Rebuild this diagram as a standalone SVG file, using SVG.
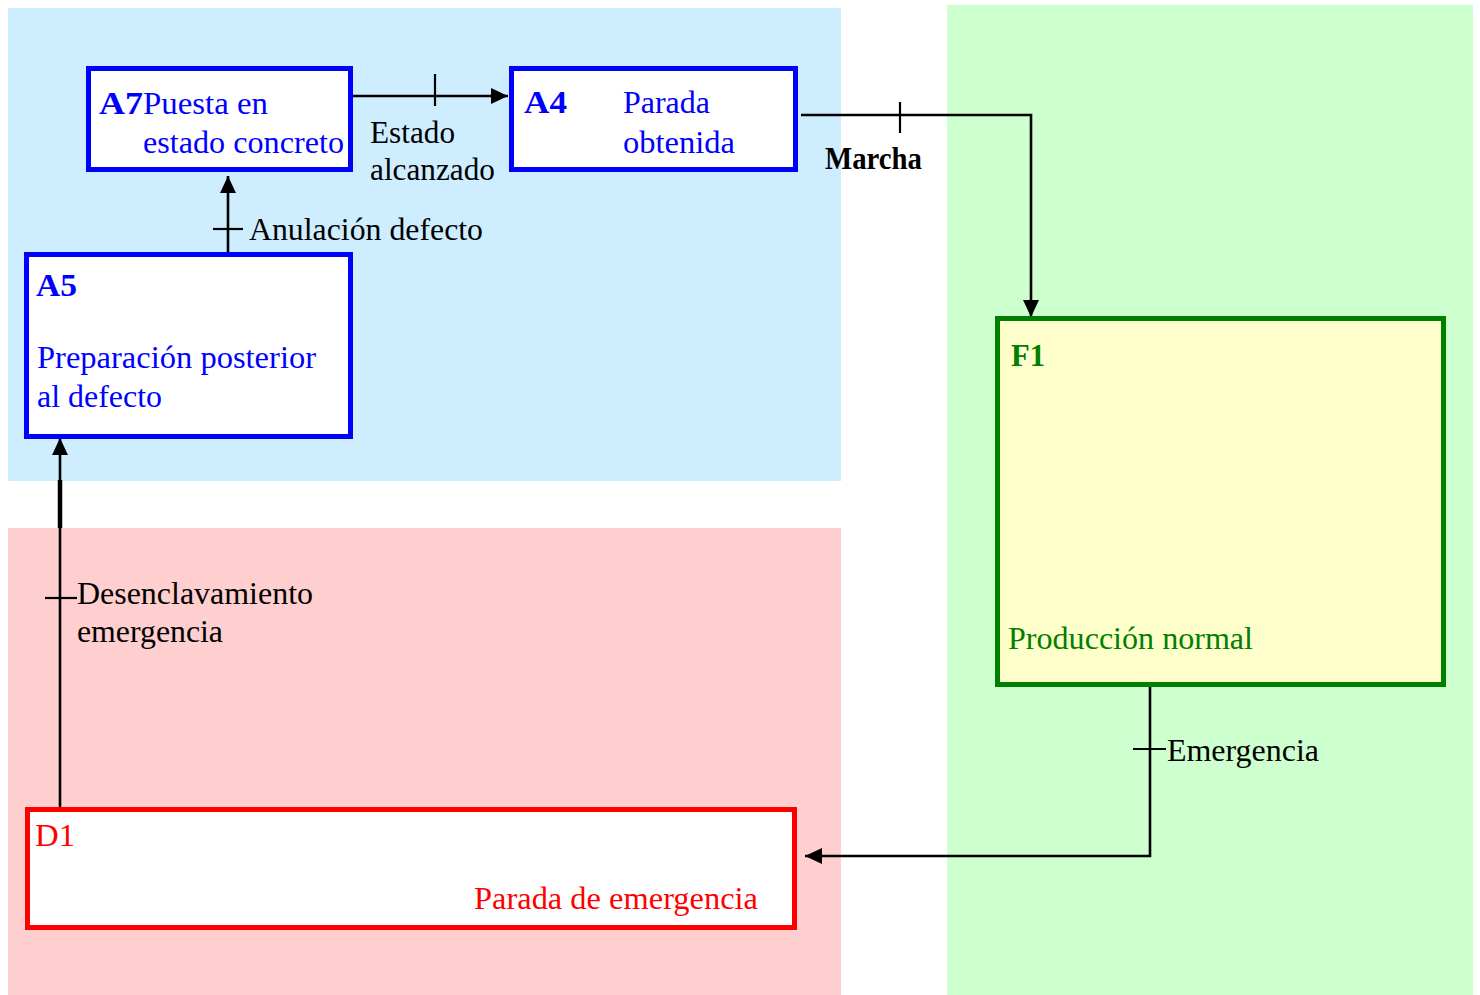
<svg xmlns="http://www.w3.org/2000/svg" width="1480" height="995" viewBox="0 0 1480 995">
<style>
text{font-family:'Liberation Serif','DejaVu Serif','Times New Roman',serif;font-size:31px}
.b{font-weight:bold}
.blue{fill:#0000FF}
.green{fill:#008000}
.red{fill:#FF0000}
.blk{fill:#000000}
.box{stroke-width:5}
.c{fill:none;stroke:#000;stroke-width:2.6}
.tick{fill:none;stroke:#000;stroke-width:2.2}
</style>
<defs>
<marker id="arr" viewBox="0 0 17 16" refX="17" refY="8" markerWidth="17" markerHeight="16" markerUnits="userSpaceOnUse" orient="auto">
<path d="M0,0 L17,8 L0,16 Z" fill="#000"/>
</marker>
</defs>
<rect width="1480" height="995" fill="#FFFFFF"/>
<g id="zones">
<rect x="8" y="8" width="833" height="473" fill="#CEEEFF"/>
<rect x="8" y="528" width="833" height="467" fill="#FFCECE"/>
<rect x="947" y="5" width="526" height="990" fill="#CEFFCE"/>
</g>
<g id="connectors">
<path class="c" d="M353,96 H508" marker-end="url(#arr)"/>
<path class="tick" d="M435,74 V106"/>
<path class="c" d="M801,115 H1031 V317" marker-end="url(#arr)"/>
<path class="tick" d="M900,102 V133"/>
<path class="c" d="M228,253 V176" marker-end="url(#arr)"/>
<path class="tick" d="M213,229 H243"/>
<path class="c" d="M1150,687 V856 H805" marker-end="url(#arr)"/>
<path class="tick" d="M1133,749 H1166"/>
<path class="c" d="M60,808 V438" marker-end="url(#arr)"/>
<path d="M60,480 V528" stroke="#000" stroke-width="4.5"/>
<path class="tick" d="M45,598 H77"/>
<text class="blk" x="370" y="143" textLength="85" lengthAdjust="spacingAndGlyphs">Estado</text>
<text class="blk" x="370" y="180" textLength="125" lengthAdjust="spacingAndGlyphs">alcanzado</text>
<text class="b blk" x="825" y="169" textLength="97" lengthAdjust="spacingAndGlyphs">Marcha</text>
<text class="blk" x="249" y="240" textLength="234" lengthAdjust="spacingAndGlyphs">Anulación defecto</text>
<text class="blk" x="77" y="604" textLength="236" lengthAdjust="spacingAndGlyphs">Desenclavamiento</text>
<text class="blk" x="77" y="642" textLength="146" lengthAdjust="spacingAndGlyphs">emergencia</text>
<text class="blk" x="1167" y="761" textLength="152" lengthAdjust="spacingAndGlyphs">Emergencia</text>
</g>
<g id="A7">
<rect class="box" x="88.5" y="68.5" width="262" height="101" fill="#FFFFFF" stroke="#0000FF"/>
<text class="b blue" x="99" y="114" textLength="44" lengthAdjust="spacingAndGlyphs">A7</text>
<text class="blue" x="143" y="114" textLength="125" lengthAdjust="spacingAndGlyphs">Puesta en</text>
<text class="blue" x="143" y="153" textLength="201" lengthAdjust="spacingAndGlyphs">estado concreto</text>
</g>
<g id="A4">
<rect class="box" x="511.5" y="68.5" width="284" height="101" fill="#FFFFFF" stroke="#0000FF"/>
<text class="b blue" x="524" y="113" textLength="43" lengthAdjust="spacingAndGlyphs">A4</text>
<text class="blue" x="623" y="113" textLength="87" lengthAdjust="spacingAndGlyphs">Parada</text>
<text class="blue" x="623" y="153" textLength="112" lengthAdjust="spacingAndGlyphs">obtenida</text>
</g>
<g id="A5">
<rect class="box" x="26.5" y="254.5" width="324" height="182" fill="#FFFFFF" stroke="#0000FF"/>
<text class="b blue" x="36" y="296" textLength="41" lengthAdjust="spacingAndGlyphs">A5</text>
<text class="blue" x="37" y="368" textLength="279" lengthAdjust="spacingAndGlyphs">Preparación posterior</text>
<text class="blue" x="37" y="407" textLength="125" lengthAdjust="spacingAndGlyphs">al defecto</text>
</g>
<g id="F1">
<rect class="box" x="997.5" y="318.5" width="446" height="366" fill="#FFFFCC" stroke="#008000"/>
<text class="b green" x="1011" y="366" textLength="34" lengthAdjust="spacingAndGlyphs">F1</text>
<text class="green" x="1008" y="649" textLength="245" lengthAdjust="spacingAndGlyphs">Producción normal</text>
</g>
<g id="D1">
<rect class="box" x="27.5" y="809.5" width="767" height="118" fill="#FFFFFF" stroke="#FF0000"/>
<text class="red" x="35" y="846" textLength="40" lengthAdjust="spacingAndGlyphs">D1</text>
<text class="red" x="474" y="909" textLength="284" lengthAdjust="spacingAndGlyphs">Parada de emergencia</text>
</g>
</svg>
